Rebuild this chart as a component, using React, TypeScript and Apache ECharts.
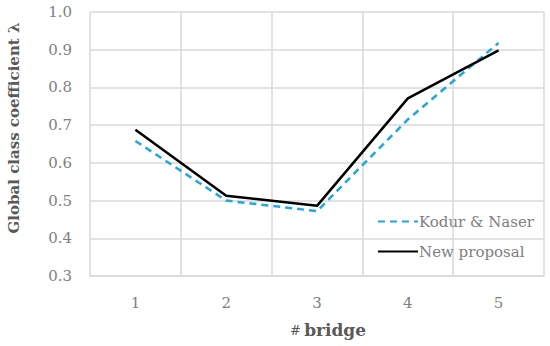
import React, { useEffect, useRef } from "react";
import * as echarts from "echarts";

const categories = ["1", "2", "3", "4", "5"];
const kodurNaser = [0.658, 0.5, 0.472, 0.715, 0.918];
const newProposal = [0.688, 0.513, 0.486, 0.771, 0.898];
const seriesNames = ["Kodur & Naser", "New proposal"];

const FONT = "DejaVu Serif";
const GRAY = "#595959";
const LIGHT = "#808080";

export default function App() {
  const ref = useRef<HTMLDivElement>(null);
  useEffect(() => {
    if (!ref.current) return;
    const chart = echarts.init(ref.current, null, { renderer: "svg" });
    chart.setOption({
      animation: false,
      backgroundColor: "#fff",
      textStyle: { fontFamily: FONT },
      grid: { left: 90, right: 6, top: 12, bottom: 70, containLabel: false },
      xAxis: {
        type: "category",
        data: categories,
        boundaryGap: true,
        axisLine: { show: true, lineStyle: { color: "#d9d9d9", width: 1.5 } },
        axisTick: { show: false },
        axisLabel: { color: LIGHT, fontSize: 15, fontFamily: FONT, margin: 19 },
        splitLine: { show: true, lineStyle: { color: "#d9d9d9", width: 1.5 } },
      },
      yAxis: {
        type: "value",
        min: 0.3,
        max: 1.0,
        interval: 0.1,
        axisLine: { show: false },
        axisTick: { show: false },
        axisLabel: {
          color: LIGHT,
          fontSize: 15,
          fontFamily: FONT,
          margin: 18,
          formatter: (v: number) => v.toFixed(1),
        },
        splitLine: { show: true, lineStyle: { color: "#d9d9d9", width: 1.5 } },
      },
      legend: {
        orient: "vertical",
        left: 377,
        top: 214,
        padding: 0,
        itemWidth: 40,
        itemHeight: 16,
        itemGap: 15,
        itemStyle: { opacity: 0 },
        textStyle: { color: LIGHT, fontSize: 15, fontFamily: FONT, padding: [0, 0, 0, -4] },
        data: seriesNames,
      },
      series: [
        {
          name: seriesNames[0],
          type: "line",
          data: kodurNaser,
          symbol: "none",
          lineStyle: { color: "#1fa8dc", width: 2.5, type: [7, 5] },
          itemStyle: { color: "#1fa8dc" },
        },
        {
          name: seriesNames[1],
          type: "line",
          data: newProposal,
          symbol: "none",
          lineStyle: { color: "#000", width: 2.5 },
          itemStyle: { color: "#000" },
        },
      ],
      graphic: [
        {
          type: "text",
          x: 6,
          y: 128,
          rotation: Math.PI / 2,
          style: {
            text: "Global class coefficient λ",
            fill: GRAY,
            font: `bold 15px ${FONT}`,
            textAlign: "center",
            textVerticalAlign: "top",
          },
        },
        {
          type: "text",
          x: 328,
          y: 330,
          style: {
            text: "{a|#} {b|bridge}",
            textAlign: "center",
            textVerticalAlign: "middle",
            rich: {
              a: { fill: GRAY, fontSize: 13, fontFamily: FONT },
              b: { fill: GRAY, fontSize: 17, fontWeight: "bold", fontFamily: FONT },
            },
          },
        },
      ],
    });
    return () => chart.dispose();
  }, []);
  return <div ref={ref} style={{ width: 550, height: 346, position: "absolute", left: 0, top: 0 }} />;
}
